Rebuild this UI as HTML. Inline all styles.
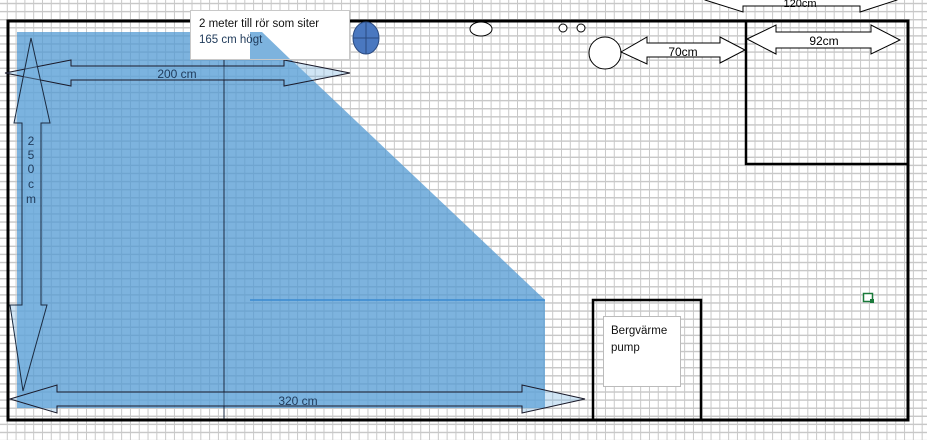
<!DOCTYPE html>
<html><head><meta charset="utf-8"><style>
html,body{margin:0;padding:0;}
body{width:927px;height:440px;overflow:hidden;background:#fff;
background-image:linear-gradient(to right,#c8c8c8 1.2px,transparent 1.2px),linear-gradient(to bottom,#c8c8c8 1.2px,transparent 1.2px);
background-size:8.8px 8.1px;background-position:6.8px 2.8px;}
svg{position:absolute;left:0;top:0;}
text{font-family:"Liberation Sans",sans-serif;}
</style></head><body>
<svg width="927" height="440" viewBox="0 0 927 440">
<polygon points="17,32 262,32 545,300 545,408 17,408" fill="rgba(79,152,210,0.74)"/>
<line x1="250" y1="300" x2="545" y2="300" stroke="#3a8ad0" stroke-width="1.5"/>
<line x1="224" y1="60" x2="224" y2="420" stroke="#1a2a40" stroke-width="1"/>
<rect x="8" y="21" width="900" height="399" fill="none" stroke="#000" stroke-width="3"/>
<rect x="746" y="21" width="162" height="143" fill="none" stroke="#000" stroke-width="2.5"/>
<rect x="593" y="300" width="108" height="120" fill="none" stroke="#000" stroke-width="2.5"/>
<rect x="603.5" y="316.5" width="77" height="70" fill="#fff" stroke="#bbb"/>
<text x="611" y="334" font-size="11.5" fill="#111">Bergvärme</text>
<text x="611" y="351" font-size="11.5" fill="#111">pump</text>
<polygon points="5,73 71,60 71,66 284,66 284,60 350,73 284,86 284,80 71,80 71,86" fill="rgba(120,180,225,0.35)" stroke="#1a1a2a" stroke-width="1"/>
<text x="177" y="78" font-size="12" fill="#1f3a5a" text-anchor="middle">200 cm</text>
<polygon points="31,38 50,123 41,123 41,305 47,305 23,391 10,305 22,305 22,123 14,123" fill="rgba(120,180,225,0.35)" stroke="#1a2a40" stroke-width="1"/>
<g font-size="12" fill="#1f3a5a" text-anchor="middle">
<text x="31" y="145">2</text><text x="31" y="159">5</text><text x="31" y="173">0</text><text x="31" y="188">c</text><text x="31" y="203">m</text></g>
<polygon points="10,399 57,385 57,392 522,392 522,385 585,399 522,413 522,406 57,406 57,413" fill="rgba(120,180,225,0.35)" stroke="#1a1a2a" stroke-width="1"/>
<text x="298" y="405" font-size="12" fill="#1f3a5a" text-anchor="middle">320 cm</text>
<rect x="190.5" y="10.5" width="159" height="49" fill="#fff" stroke="#c8c8c8"/>
<polygon points="250,32 262,32 290,59 250,59" fill="rgba(79,152,210,0.74)"/>
<text x="199" y="27" font-size="11.5" fill="#111">2 meter till rör som siter</text>
<text x="199" y="43" font-size="11.5" fill="#1f3a5a">165 cm högt</text>
<ellipse cx="366" cy="38" rx="13" ry="16" fill="#4a78c0" stroke="#2a4a80" stroke-width="1"/>
<line x1="366" y1="22" x2="366" y2="54" stroke="#2a4a80"/>
<line x1="353" y1="38" x2="379" y2="38" stroke="#2a4a80"/>
<ellipse cx="481" cy="29" rx="11" ry="7" fill="#fff" stroke="#000"/>
<circle cx="563" cy="28" r="4" fill="#fff" stroke="#000"/>
<circle cx="581" cy="28" r="4" fill="#fff" stroke="#000"/>
<circle cx="605" cy="53" r="16" fill="#fff" stroke="#000"/>
<polygon points="621,52 647,37 647,43 720,43 720,37 745,50 720,63 720,57 647,57 647,64" fill="#fff" stroke="#000"/>
<text x="683" y="56" font-size="12" fill="#000" text-anchor="middle">70cm</text>
<polygon points="747,39 776,25 776,32 871,32 871,25 900,40 871,54 871,48 776,48 776,54" fill="#fff" stroke="#000"/>
<text x="824" y="45" font-size="12" fill="#000" text-anchor="middle">92cm</text>
<polygon points="705,0 743,12 743,6 860,6 860,12 897,0 897,-10 705,-10" fill="#fff" stroke="#000"/>
<text x="800" y="7" font-size="11" fill="#000" text-anchor="middle">120cm</text>
<rect x="863.5" y="293.5" width="9" height="8" fill="#fff" stroke="#1a7a3a" stroke-width="1.5"/>
<rect x="870" y="299" width="4" height="4" fill="#1a7a3a"/>
</svg>
</body></html>
